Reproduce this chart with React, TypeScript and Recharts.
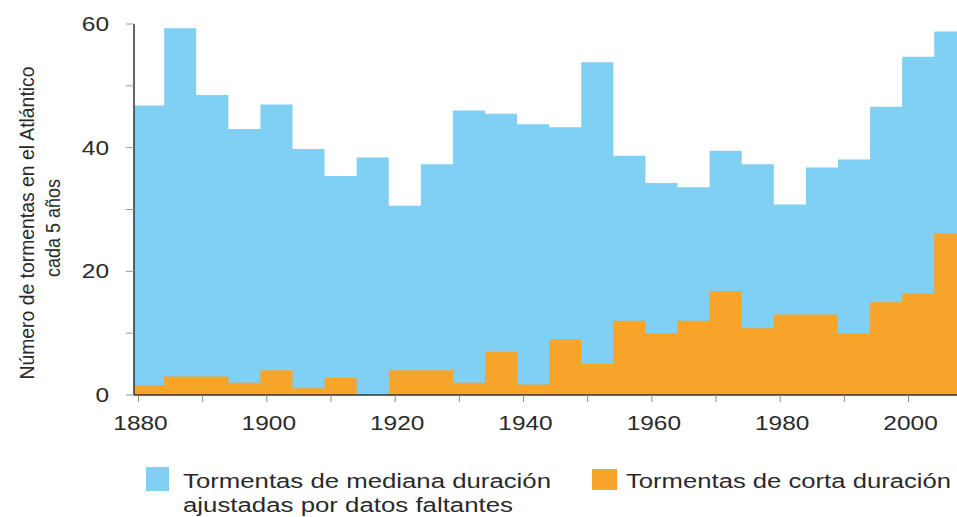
import React from 'react';
import { ComposedChart, Area, XAxis, YAxis, Legend } from 'recharts';

// 5-year bins (start year of each bin)
const binStarts = [1879, 1884, 1889, 1894, 1899, 1904, 1909, 1914, 1919, 1924, 1929, 1934, 1939, 1944, 1949, 1954, 1959, 1964, 1969, 1974, 1979, 1984, 1989, 1994, 1999, 2004];
const binEnd = 2009;

// Tormentas de mediana duración ajustadas por datos faltantes (top of blue)
const mediumStorms = [46.8, 59.3, 48.5, 43.0, 47.0, 39.8, 35.4, 38.4, 30.6, 37.3, 46.0, 45.5, 43.8, 43.3, 53.8, 38.7, 34.3, 33.6, 39.5, 37.3, 30.8, 36.8, 38.1, 46.6, 54.7, 58.8];

// Tormentas de corta duración
const shortStorms = [1.6, 3.0, 3.0, 2.0, 4.0, 1.1, 2.8, 0, 4.0, 4.0, 2.0, 7.0, 1.7, 9.0, 5.0, 12.0, 10.0, 12.0, 16.8, 10.8, 13.0, 13.0, 10.0, 15.0, 16.4, 26.2];

const xTicks = [1880, 1890, 1900, 1910, 1920, 1930, 1940, 1950, 1960, 1970, 1980, 1990, 2000];
const xLabeled = [1880, 1900, 1920, 1940, 1960, 1980, 2000];
const yTicks = [0, 10, 20, 30, 40, 50, 60];
const yLabeled = [0, 20, 40, 60];

const yTitle1 = 'Número de tormentas en el Atlántico';
const yTitle2 = 'cada 5 años';
const legendMedium1 = 'Tormentas de mediana duración';
const legendMedium2 = 'ajustadas por datos faltantes';
const legendShort = 'Tormentas de corta duración';

const BLUE = '#80d0f4';
const ORANGE = '#f6a42a';
const TEXT = '#2a2a2a';
const FONT = '"Liberation Sans", Arial, sans-serif';

const data = [
  ...binStarts.map((year, i) => ({ year, medium: mediumStorms[i], short: shortStorms[i] })),
  { year: binEnd, medium: mediumStorms[mediumStorms.length - 1], short: shortStorms[shortStorms.length - 1] },
];

const XTick = (props: any) => {
  const { x, y, payload } = props;
  if (!xLabeled.includes(payload.value)) return <g />;
  const s = String(payload.value);
  return (
    <text x={x + 2} y={y + 26} textAnchor="middle" fontFamily={FONT} fontSize={20} fill={TEXT}
      textLength={s.length * 13.6} lengthAdjust="spacingAndGlyphs">
      {s}
    </text>
  );
};

const YTick = (props: any) => {
  const { x, y, payload } = props;
  if (!yLabeled.includes(payload.value)) return <g />;
  const s = String(payload.value);
  return (
    <text x={x - 15} y={y + 7} textAnchor="end" fontFamily={FONT} fontSize={20} fill={TEXT}
      textLength={s.length * 13.6} lengthAdjust="spacingAndGlyphs">
      {s}
    </text>
  );
};

const YTitle = () => (
  <g>
    <text transform="translate(34,223) rotate(-90)" textAnchor="middle" fontFamily={FONT} fontSize={20} fill={TEXT}
      textLength={313} lengthAdjust="spacingAndGlyphs">
      {yTitle1}
    </text>
    <text transform="translate(60,228) rotate(-90)" textAnchor="middle" fontFamily={FONT} fontSize={20} fill={TEXT}
      textLength={98} lengthAdjust="spacingAndGlyphs">
      {yTitle2}
    </text>
  </g>
);

const renderLegend = () => (
  <svg width={957} height={77} style={{ display: 'block' }}>
    <rect x={146} y={27} width={23} height={24} fill={BLUE} />
    <text x={183} y={48} fontFamily={FONT} fontSize={20} fill={TEXT} textLength={368} lengthAdjust="spacingAndGlyphs">
      {legendMedium1}
    </text>
    <text x={183} y={72} fontFamily={FONT} fontSize={20} fill={TEXT} textLength={330} lengthAdjust="spacingAndGlyphs">
      {legendMedium2}
    </text>
    <rect x={592} y={29} width={25} height={21} fill={ORANGE} />
    <text x={626} y={48} fontFamily={FONT} fontSize={20} fill={TEXT} textLength={325} lengthAdjust="spacingAndGlyphs">
      {legendShort}
    </text>
  </svg>
);

export default function App() {
  return (
    <div style={{ position: 'absolute', left: 0, top: 0, width: 957, height: 517, background: '#fff' }}>
      <ComposedChart width={957} height={517} data={data} margin={{ top: 24, right: 0, bottom: 92, left: 0 }}>
        <XAxis
          dataKey="year"
          type="number"
          domain={[1879.3, 2007.55]}
          allowDataOverflow
          ticks={xTicks}
          interval={0}
          height={30}
          tickSize={7}
          tick={<XTick />}
          axisLine={{ stroke: '#333', strokeWidth: 1.5 }}
          tickLine={{ stroke: '#888' }}
        />
        <YAxis
          type="number"
          domain={[0, 60]}
          ticks={yTicks}
          interval={0}
          width={134}
          tickSize={8}
          tick={<YTick />}
          axisLine={{ stroke: '#333', strokeWidth: 1.5 }}
          tickLine={{ stroke: '#999' }}
          label={<YTitle />}
        />
        <Area type="stepAfter" dataKey="medium" stroke="none" fill={BLUE} fillOpacity={1}
          isAnimationActive={false} dot={false} activeDot={false} />
        <Area type="stepAfter" dataKey="short" stroke="none" fill={ORANGE} fillOpacity={1}
          isAnimationActive={false} dot={false} activeDot={false} />
        <Legend
          layout="horizontal"
          verticalAlign="middle"
          align="center"
          content={renderLegend}
          wrapperStyle={{ left: 0, top: 440, width: 957, height: 77 }}
        />
      </ComposedChart>
    </div>
  );
}
